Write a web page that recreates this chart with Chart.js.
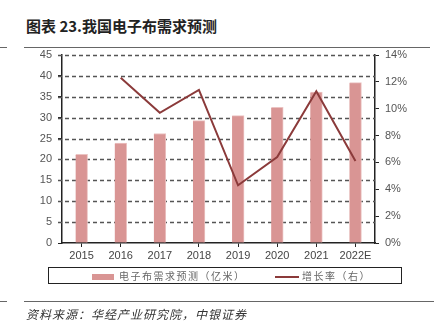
<!DOCTYPE html>
<html>
<head>
<meta charset="utf-8">
<script src="https://cdn.jsdelivr.net/npm/chart.js@4"></script>
<style>
    body { margin: 0; width: 434px; height: 323px; background: #fff; position: relative; overflow: hidden; font-family: "Noto Sans CJK SC", sans-serif; }
    #chartWrap { position: absolute; left: 0; top: 0; width: 434px; height: 323px; }
    .title { position: absolute; left: 26px; top: 15px; font-size: 15px; font-weight: 700; color: #222; white-space: nowrap; }
    .rule { position: absolute; height: 0; border-top: 1.5px solid #666; }
    .legend { position: absolute; left: 48px; top: 267px; width: 354px; height: 17px; border: 1px solid #222; box-sizing: border-box; }
    .legItem { position: absolute; top: 1px; font-size: 10px; letter-spacing: 1.5px; color: #666; white-space: nowrap; line-height: 14px; }
    .swatch { position: absolute; }
    .source { position: absolute; left: 26px; top: 305px; font-size: 12px; font-style: italic; color: #333; letter-spacing: 1px; white-space: nowrap; }
</style>
</head>
<body>
<div class="title">图表 23.我国电子布需求预测</div>
<div class="rule" style="left:0;top:47px;width:7px"></div>
<div class="rule" style="left:24px;top:47px;width:406px"></div>

<div id="chartWrap"><canvas id="demandChart" width="434" height="323"></canvas></div>

<div class="legend">
    <div class="swatch" style="left:43px;top:6px;width:22px;height:6px;background:#D99594"></div>
    <div class="legItem" style="left:70px">电子布需求预测（亿米）</div>
    <div class="swatch" style="left:226px;top:8px;width:24px;height:2px;background:#8B3A3A"></div>
    <div class="legItem" style="left:253px">增长率（右）</div>
</div>

<div class="rule" style="left:0;top:301px;width:7px"></div>
<div class="rule" style="left:24px;top:301px;width:410px"></div>
<div class="source">资料来源：华经产业研究院，中银证券</div>

<script>
// chart data
const years = ["2015", "2016", "2017", "2018", "2019", "2020", "2021", "2022E"];
const demand = [21.2, 23.9, 26.2, 29.3, 30.5, 32.5, 36.1, 38.4];          // 亿米
const growthRate = [null, 12.3, 9.7, 11.4, 4.3, 6.4, 11.3, 6.1];          // %

const tickFont = { family: "'Liberation Sans', Arial, sans-serif", size: 11 };

// dashed horizontal grid, drawn from the left scale's own ticks
const dashedGrid = {
    id: "dashedGrid",
    beforeDatasetsDraw(chart) {
        const { ctx, chartArea, scales } = chart;
        const y = scales.y;
        ctx.save();
        ctx.strokeStyle = "#555";
        ctx.lineWidth = 1.3;
        ctx.setLineDash([4, 3]);
        y.ticks.forEach((t) => {
            if (t.value === 0) return;
            const py = Math.round(y.getPixelForValue(t.value)) + 0.5;
            ctx.beginPath();
            ctx.moveTo(chartArea.left - 4, py);
            ctx.lineTo(chartArea.right, py);
            ctx.stroke();
        });
        ctx.restore();
    },
};

document.addEventListener("DOMContentLoaded", () => {
    const ctx = document.getElementById("demandChart");

    new Chart(ctx, {
        data: {
            labels: years,
            datasets: [
                {
                    type: "line",
                    label: "增长率（右）",
                    data: growthRate,
                    yAxisID: "y1",
                    borderColor: "#8B3A3A",
                    borderWidth: 2,
                    pointRadius: 0,
                    tension: 0,
                    order: 0,
                },
                {
                    type: "bar",
                    label: "电子布需求预测（亿米）",
                    data: demand,
                    yAxisID: "y",
                    backgroundColor: "#D99594",
                    borderColor: "#EBC3C2",
                    borderWidth: { top: 1, left: 0, right: 1, bottom: 0 },
                    barThickness: 12,
                    order: 1,
                },
            ],
        },
        options: {
            responsive: false,
            animation: false,
            layout: { padding: { top: 55, bottom: 60, left: 0, right: 0 } },
            plugins: { legend: { display: false }, tooltip: { enabled: false } },
            scales: {
                x: {
                    offset: true,
                    grid: { display: true, drawOnChartArea: false, offset: false, tickLength: 4, tickColor: "#222" },
                    border: { color: "#222", width: 1.5 },
                    ticks: { color: "#444", font: tickFont, padding: 2, maxRotation: 0 },
                    afterFit: (s) => { s.height = 20; },
                },
                y: {
                    position: "left",
                    min: 0,
                    max: 45,
                    ticks: { stepSize: 5, color: "#555", font: tickFont, padding: 6 },
                    grid: { drawOnChartArea: false, tickLength: 4, tickColor: "#222" },
                    border: { color: "#222", width: 1.5 },
                    afterFit: (s) => { s.width = 62; },
                },
                y1: {
                    position: "right",
                    min: 0,
                    max: 14,
                    ticks: { stepSize: 2, color: "#555", font: tickFont, padding: 6, callback: (v) => v + "%" },
                    grid: { drawOnChartArea: false, tickLength: 4, tickColor: "#222" },
                    border: { color: "#222", width: 1.5 },
                    afterFit: (s) => { s.width = 59; },
                },
            },
        },
        plugins: [dashedGrid],
    });
});
</script>
</body>
</html>
